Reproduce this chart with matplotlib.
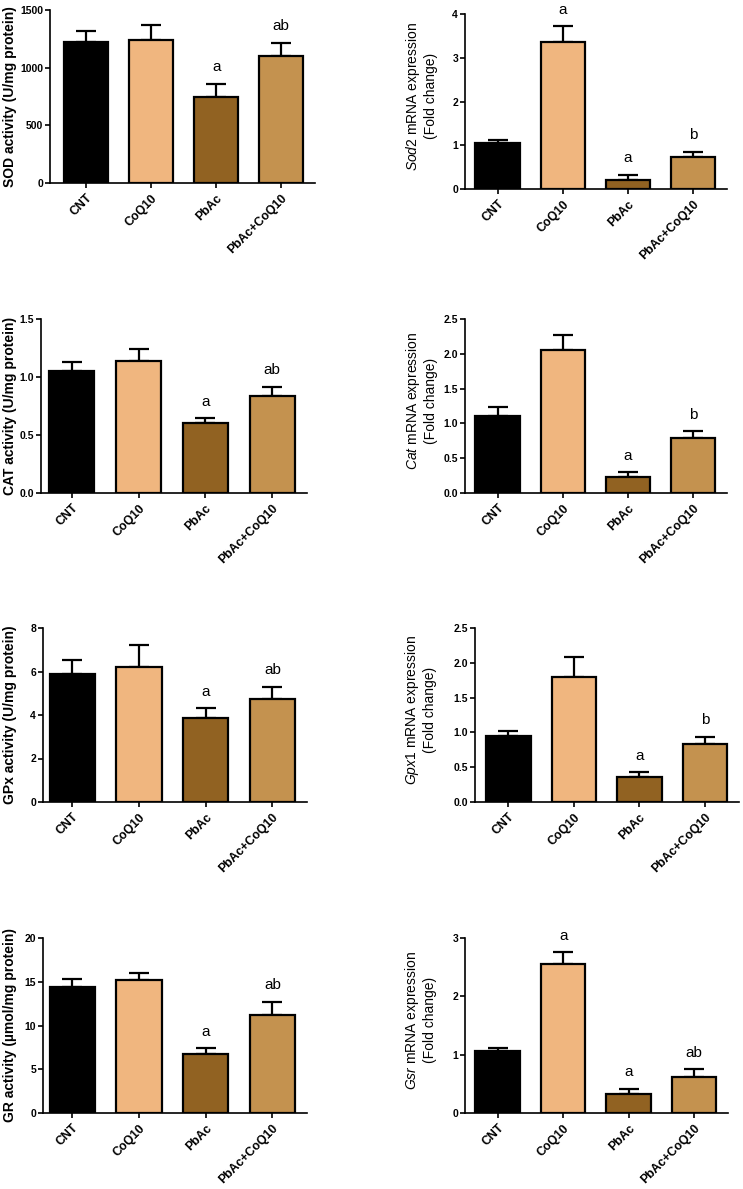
import numpy as np
import matplotlib
matplotlib.use('Agg')
import matplotlib.pyplot as plt

plt.rcParams['font.family'] = ['Liberation Sans', 'DejaVu Sans']
plt.rcParams['mathtext.fontset'] = 'custom'
plt.rcParams['mathtext.rm'] = 'Liberation Sans'
plt.rcParams['mathtext.it'] = 'Liberation Sans:italic'

groups = ['CNT', 'CoQ10', 'PbAc', 'PbAc+CoQ10']
colors = ['#000000', '#F0B67F', '#916222', '#C4924F']

sod_mean = [1223, 1243, 747, 1099]
sod_err = [98, 127, 113, 115]
sod2_mean = [1.05, 3.35, 0.20, 0.73]
sod2_err = [0.08, 0.37, 0.12, 0.12]
cat_mean = [1.05, 1.135, 0.60, 0.835]
cat_err = [0.08, 0.105, 0.045, 0.08]
cat2_mean = [1.10, 2.05, 0.235, 0.79]
cat2_err = [0.14, 0.22, 0.065, 0.10]
gpx_mean = [5.9, 6.2, 3.88, 4.72]
gpx_err = [0.63, 1.0, 0.43, 0.58]
gpx1_mean = [0.95, 1.80, 0.36, 0.83]
gpx1_err = [0.07, 0.28, 0.07, 0.11]
gr_mean = [14.4, 15.2, 6.7, 11.2]
gr_err = [0.9, 0.8, 0.7, 1.5]
gsr_mean = [1.06, 2.55, 0.32, 0.62]
gsr_err = [0.06, 0.21, 0.10, 0.13]

sod_marks = ['', '', 'a', 'ab']
sod2_marks = ['', 'a', 'a', 'b']
cat_marks = ['', '', 'a', 'ab']
cat2_marks = ['', '', 'a', 'b']
gpx_marks = ['', '', 'a', 'ab']
gpx1_marks = ['', '', 'a', 'b']
gr_marks = ['', '', 'a', 'ab']
gsr_marks = ['', 'a', 'a', 'ab']

W, H = 743, 1189

# data, errors, marks, ylabel, ymax, ystep, tick format,
# pixel box (x0, x1, ytop, ybottom), left xlim, label x in px, bold label
panels = [
    (sod_mean, sod_err, sod_marks, 'SOD activity (U/mg protein)', 1500, 500, '%d',
     50, 315, 10, 183, -0.56, 10, True),
    (sod2_mean, sod2_err, sod2_marks, '$\\mathit{Sod2}$ mRNA expression\n(Fold change)', 4, 1, '%d',
     465, 727, 14, 189, -0.5, 421, False),
    (cat_mean, cat_err, cat_marks, 'CAT activity (U/mg protein)', 1.5, 0.5, '%.1f',
     41, 307, 319, 493, -0.46, 10, True),
    (cat2_mean, cat2_err, cat2_marks, '$\\mathit{Cat}$ mRNA expression\n(Fold change)', 2.5, 0.5, '%.1f',
     465, 727, 319, 493, -0.5, 421, False),
    (gpx_mean, gpx_err, gpx_marks, 'GPx activity (U/mg protein)', 8, 2, '%d',
     43, 307, 628, 802, -0.44, 10, True),
    (gpx1_mean, gpx1_err, gpx1_marks, '$\\mathit{Gpx1}$ mRNA expression\n(Fold change)', 2.5, 0.5, '%.1f',
     475, 739, 628, 802, -0.51, 420, False),
    (gr_mean, gr_err, gr_marks, 'GR activity (\u00b5mol/mg protein)', 20, 5, '%d',
     43, 307, 938, 1113, -0.44, 10, True),
    (gsr_mean, gsr_err, gsr_marks, '$\\mathit{Gsr}$ mRNA expression\n(Fold change)', 3, 1, '%d',
     465, 728, 938, 1113, -0.5, 420, False),
]

fig = plt.figure(figsize=(W / 100, H / 100), dpi=100)

for (mean, err, marks, ylabel, ymax, ystep, fmt, x0, x1, yt, yb, xlo, labx, bold) in panels:
    ax = fig.add_axes([x0 / W, 1 - yb / H, (x1 - x0) / W, (yb - yt) / H])
    x = np.arange(len(groups))
    mean = np.array(mean)
    err = np.array(err)
    ax.errorbar(x, mean, yerr=[np.zeros(len(err)), err], fmt='none', ecolor='black',
                elinewidth=1.6, capsize=7.5, capthick=1.6, zorder=1)
    ax.bar(x, mean, width=0.68, color=colors, edgecolor='black', linewidth=1.6, zorder=2)
    for xi, m, e, t in zip(x, mean, err, marks):
        if t:
            ax.annotate(t, (xi, m + e), xytext=(0, 9), textcoords='offset points',
                        ha='center', va='baseline', fontsize=11, annotation_clip=False)
    ax.set_xlim(xlo, 3.52)
    ax.set_ylim(0, ymax)
    ticks = np.arange(0, ymax + ystep / 2, ystep)
    ax.set_yticks(ticks)
    ax.set_yticklabels([fmt % t for t in ticks], fontsize=7.5, fontweight='bold')
    ax.set_xticks(x)
    ax.set_xticklabels(groups, rotation=45, ha='right', rotation_mode='anchor',
                       fontsize=8.8, fontweight='bold')
    ax.tick_params(axis='both', direction='out', length=3.5, width=1.2, pad=1.5)
    ax.tick_params(axis='x', pad=3)
    for s in ['top', 'right']:
        ax.spines[s].set_visible(False)
    for s in ['left', 'bottom']:
        ax.spines[s].set_linewidth(1.2)
    ax.set_ylabel(ylabel, fontsize=10, fontweight='bold' if bold else 'normal',
                  va='center', ha='center', linespacing=1.15)
    ax.yaxis.set_label_coords((labx - x0) / (x1 - x0), 0.5 if bold else 0.53)

fig.savefig('out.png', dpi=100)
